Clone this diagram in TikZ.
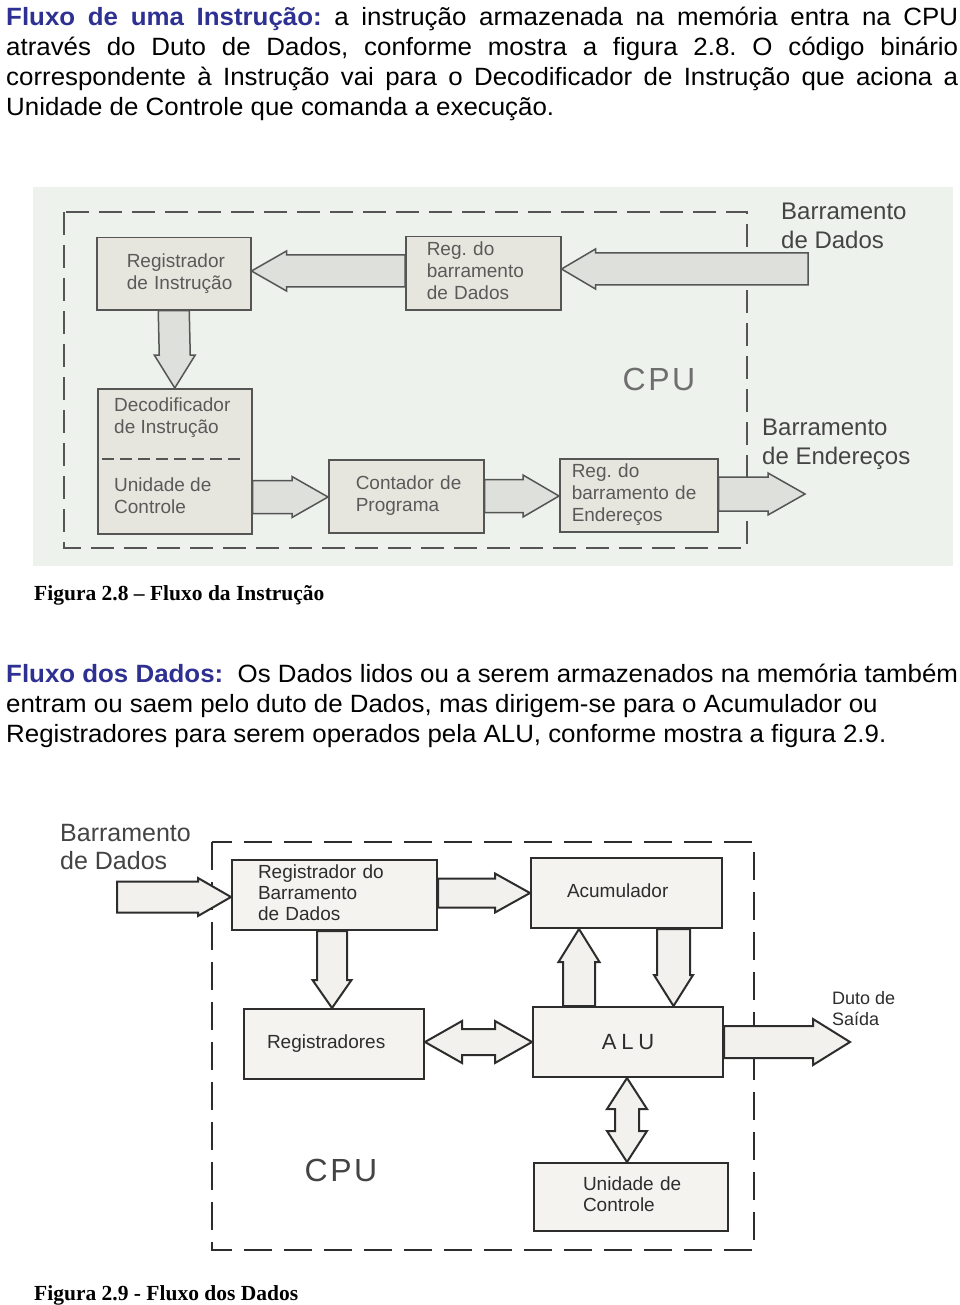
\documentclass[tikz,border=0pt]{standalone}
\usepackage{fontspec}
\setmainfont{Liberation Sans}
\newfontfamily\parafont[FakeStretch=1.035]{Liberation Sans}
\newfontfamily\serifb{Liberation Serif}
\usetikzlibrary{calc}
\frenchspacing
\definecolor{bg8}{RGB}{237,243,236}
\definecolor{box8}{RGB}{231,230,222}
\definecolor{arr8}{RGB}{221,224,219}
\definecolor{ln8}{RGB}{85,85,85}
\definecolor{tx8}{RGB}{90,90,90}
\definecolor{cpuc}{RGB}{110,110,110}
\definecolor{lb8}{RGB}{68,68,68}
\definecolor{box9}{RGB}{244,243,239}
\definecolor{arr9}{RGB}{242,241,237}
\definecolor{ln9}{RGB}{45,45,45}
\definecolor{blueh}{RGB}{46,49,146}
% text block inside a box, shifted right by #1
\newcommand\btxt[2]{\begin{tabular}{@{\hspace{#1}}l@{}}#2\end{tabular}}
% block arrows: [style]{start}{tip}{shaft half}{head half}{head length}
\newcommand\rarr[6][]{\draw[#1] ($#2+(0,-#4)$) -- ($#3+(-#6,-#4)$) -- ($#3+(-#6,-#5)$) -- #3 -- ($#3+(-#6,#5)$) -- ($#3+(-#6,#4)$) -- ($#2+(0,#4)$) -- cycle;}
\newcommand\larr[6][]{\draw[#1] ($#2+(0,-#4)$) -- ($#3+(#6,-#4)$) -- ($#3+(#6,-#5)$) -- #3 -- ($#3+(#6,#5)$) -- ($#3+(#6,#4)$) -- ($#2+(0,#4)$) -- cycle;}
\newcommand\darr[6][]{\draw[#1] ($#2+(-#4,0)$) -- ($#3+(-#4,-#6)$) -- ($#3+(-#5,-#6)$) -- #3 -- ($#3+(#5,-#6)$) -- ($#3+(#4,-#6)$) -- ($#2+(#4,0)$) -- cycle;}
\newcommand\uarr[6][]{\draw[#1] ($#2+(-#4,0)$) -- ($#3+(-#4,#6)$) -- ($#3+(-#5,#6)$) -- #3 -- ($#3+(#5,#6)$) -- ($#3+(#4,#6)$) -- ($#2+(#4,0)$) -- cycle;}
\newcommand\hdarr[6][]{\draw[#1] #2 -- ($#2+(#6,-#5)$) -- ($#2+(#6,-#4)$) -- ($#3+(-#6,-#4)$) -- ($#3+(-#6,-#5)$) -- #3 -- ($#3+(-#6,#5)$) -- ($#3+(-#6,#4)$) -- ($#2+(#6,#4)$) -- ($#2+(#6,#5)$) -- cycle;}
\newcommand\vdarr[6][]{\draw[#1] #2 -- ($#2+(#5,#6)$) -- ($#2+(#4,#6)$) -- ($#3+(#4,-#6)$) -- ($#3+(#5,-#6)$) -- #3 -- ($#3+(-#5,-#6)$) -- ($#3+(-#4,-#6)$) -- ($#2+(-#4,#6)$) -- ($#2+(-#5,#6)$) -- cycle;}
\begin{document}
\begin{tikzpicture}[x=1pt,y=-1pt,
  b8/.style={draw=ln8, line width=1.5pt, fill=box8, text=tx8, anchor=north west, inner sep=0pt, align=left, font=\fontsize{19}{22}\selectfont},
  t8/.style={text=tx8, inner sep=0pt, align=left, anchor=west, font=\fontsize{19}{22}\selectfont},
  a8/.style={draw=ln8, line width=1.5pt, fill=arr8, line join=miter},
  cpu8/.style={draw=ln8, line width=2pt, dash pattern=on 23pt off 10pt},
  b9/.style={draw=ln9, line width=2pt, fill=box9, text=ln9, anchor=north west, inner sep=0pt, align=left, font=\fontsize{19}{21}\selectfont},
  a9/.style={draw=ln9, line width=2pt, fill=arr9, line join=miter},
  cpu9/.style={draw=ln9, line width=2pt, dash pattern=on 28pt off 12pt},
  para/.style={anchor=base west, inner sep=0pt, font=\parafont\fontsize{25}{30}\selectfont},
  bus/.style={anchor=west, inner sep=0pt, align=left, text=lb8, font=\fontsize{24}{29}\selectfont},
  figcap/.style={anchor=base west, inner sep=0pt, font=\serifb\bfseries\fontsize{21.5}{21.5}\selectfont}
]
\useasboundingbox (0,0) rectangle (960,1305);
\fill[white] (0,0) rectangle (960,1305);

% ---------- text paragraph 1 ----------
\node[para] (p1a) at (6,26) {\makebox[952pt][s]{\textcolor{blueh}{\bfseries Fluxo de uma Instrução:} a instrução armazenada na memória entra na CPU}};
\node[para] (p1b) at (6,56) {\makebox[952pt][s]{através do Duto de Dados, conforme mostra a figura 2.8. O código binário}};
\node[para] (p1c) at (6,86) {\makebox[952pt][s]{correspondente à Instrução vai para o Decodificador de Instrução que aciona a}};
\node[para] (p1d) at (6,116) {Unidade de Controle que comanda a execução.};

% ---------- figure 2.8 ----------
\fill[bg8] (33,187) rectangle (953,566);
\draw[cpu8] (64,212) rectangle (747,548);

\node[b8, minimum width=154pt, minimum height=72pt, text width=154pt] (regI) at (96,237) {\btxt{30pt}{Registrador\\de Instrução}};
\node[b8, minimum width=155pt, minimum height=73pt, text width=155pt] (regD) at (405,236) {\btxt{21pt}{Reg. do\\barramento\\de Dados}};
\node[b8, minimum width=154pt, minimum height=145pt] (dec) at (97,388) {};
\node[t8] (decT) at (114,418) {Decodificador\\de Instrução};
\node[t8] (ucT) at (114,496) {Unidade de\\Controle};
\draw[draw=ln8, line width=1.5pt, dash pattern=on 12pt off 6pt] (102,459) -- (245,459);
\node[b8, minimum width=155pt, minimum height=73pt, text width=155pt] (cp) at (328,459) {\btxt{27pt}{Contador de\\Programa}};
\node[b8, minimum width=158pt, minimum height=73pt, text width=158pt] (rbe) at (559,458) {\btxt{12pt}{Reg. do\\barramento de\\Endereços}};

\coordinate (busD) at (808,269);
\coordinate (busE) at (805,494);
\larr[a8]{(regD.west |- 0,271)}{(regI.east |- 0,271)}{16}{20}{35}
\larr[a8]{(busD)}{(regD.east |- 0,269)}{16}{20}{34}
\darr[a8]{(regI.south)}{(dec.north)}{15.5}{20.5}{33}
\rarr[a8]{(dec.east |- 0,497)}{(cp.west |- 0,497)}{16.5}{20.5}{36}
\rarr[a8]{(cp.east |- 0,496)}{(rbe.west |- 0,496)}{16.5}{21}{36}
\rarr[a8]{(rbe.east |- 0,494)}{(busE)}{17}{21}{37}

\node[anchor=center, inner sep=0pt, text=cpuc, font=\fontsize{32}{32}\selectfont\addfontfeature{LetterSpace=8}] (cpu8t) at (659,379) {CPU};
\node[bus] (busDt) at (781,225.5) {Barramento\\de Dados};
\node[bus] (busEt) at (762,444) {Barramento\\de Endereços};

\node[figcap] (cap8) at (34,600) {Figura 2.8 – Fluxo da Instrução};

% ---------- text paragraph 2 ----------
\node[para] (p2a) at (6,682) {\textcolor{blueh}{\bfseries Fluxo dos Dados:}\ \ Os Dados lidos ou a serem armazenados na memória também};
\node[para] (p2b) at (6,712) {entram ou saem pelo duto de Dados, mas dirigem-se para o Acumulador ou};
\node[para] (p2c) at (6,742) {Registradores para serem operados pela ALU, conforme mostra a figura 2.9.};

% ---------- figure 2.9 ----------
\draw[cpu9] (212,842) rectangle (754,1250);

\node[b9, minimum width=205pt, minimum height=70pt, text width=205pt] (rbd) at (231,859) {\btxt{26pt}{Registrador do\\Barramento\\de Dados}};
\node[b9, minimum width=191pt, minimum height=70pt, text width=191pt] (acc) at (530,857) {\btxt{36pt}{Acumulador}};
\node[b9, minimum width=180pt, minimum height=70pt, text width=180pt] (regs) at (243,1008) {\btxt{23pt}{Registradores}};
\node[b9, minimum width=190pt, minimum height=70pt, align=center, font=\fontsize{22}{22}\selectfont\addfontfeature{LetterSpace=22}] (alu) at (532,1006) {ALU};
\node[b9, minimum width=194pt, minimum height=68pt, text width=194pt] (uc) at (533,1162) {\btxt{49pt}{Unidade de\\Controle}};

\coordinate (busIn) at (117,897);
\coordinate (dOut) at (850,1042);
\rarr[a9]{(busIn)}{(rbd.west |- 0,897)}{15.5}{19}{33}
\rarr[a9]{(rbd.east |- 0,893)}{(acc.west |- 0,893)}{14.5}{19.5}{35}
\darr[a9]{(rbd.south -| 332,0)}{(regs.north -| 332,0)}{15}{19.5}{28}
\uarr[a9]{(alu.north -| 579,0)}{(acc.south -| 579,0)}{16}{20.5}{33}
\darr[a9]{(acc.south -| 673.5,0)}{(alu.north -| 673.5,0)}{16.5}{19.5}{31}
\hdarr[a9]{(regs.east |- 0,1042)}{(alu.west |- 0,1042)}{13}{21}{37}
\rarr[a9]{(alu.east |- 0,1042)}{(dOut)}{16}{23}{37}
\vdarr[a9]{(alu.south -| 627,0)}{(uc.north -| 627,0)}{12}{20}{31}

\node[anchor=center, inner sep=0pt, text=lb8, font=\fontsize{32}{32}\selectfont\addfontfeature{LetterSpace=8}] (cpu9t) at (341,1170) {CPU};
\node[bus, font=\fontsize{25}{28}\selectfont] (busDt9) at (60,847.5) {Barramento\\de Dados};
\node[anchor=west, inner sep=0pt, align=left, text=ln9, font=\fontsize{18}{21}\selectfont] (duto) at (832,1008.5) {Duto de\\Saída};

\node[figcap] (cap9) at (34,1300) {Figura 2.9 - Fluxo dos Dados};
\end{tikzpicture}
\end{document}
